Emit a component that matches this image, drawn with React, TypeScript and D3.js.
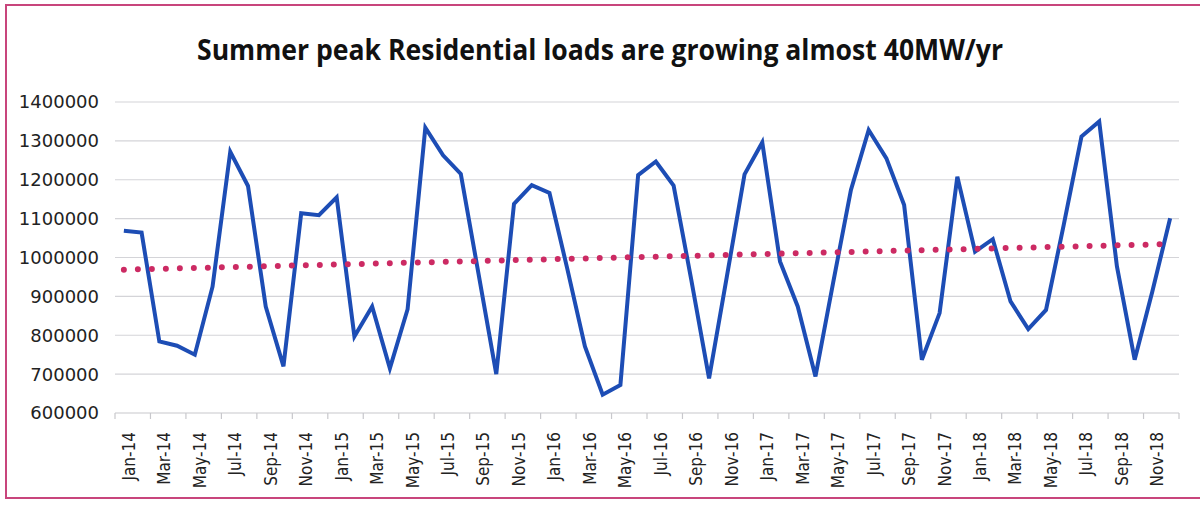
import React, { useEffect, useRef } from "react";
import * as d3 from "d3";

// Monthly residential peak load, Jan-2014 .. Dec-2018
const months: string[] = [
  "Jan-14", "Feb-14", "Mar-14", "Apr-14", "May-14", "Jun-14", "Jul-14", "Aug-14", "Sep-14", "Oct-14", "Nov-14", "Dec-14",
  "Jan-15", "Feb-15", "Mar-15", "Apr-15", "May-15", "Jun-15", "Jul-15", "Aug-15", "Sep-15", "Oct-15", "Nov-15", "Dec-15",
  "Jan-16", "Feb-16", "Mar-16", "Apr-16", "May-16", "Jun-16", "Jul-16", "Aug-16", "Sep-16", "Oct-16", "Nov-16", "Dec-16",
  "Jan-17", "Feb-17", "Mar-17", "Apr-17", "May-17", "Jun-17", "Jul-17", "Aug-17", "Sep-17", "Oct-17", "Nov-17", "Dec-17",
  "Jan-18", "Feb-18", "Mar-18", "Apr-18", "May-18", "Jun-18", "Jul-18", "Aug-18", "Sep-18", "Oct-18", "Nov-18", "Dec-18",
];

const loads: number[] = [
  1069000, 1064000, 784000, 773000, 750000, 925000, 1272000, 1184000, 874000, 720000, 1114000, 1109000,
  1155000, 797000, 874000, 715000, 867000, 1334000, 1263000, 1215000, 958000, 700000, 1138000, 1186000,
  1166000, 972000, 771000, 647000, 672000, 1212000, 1247000, 1185000, 942000, 689000, 950000, 1214000,
  1296000, 990000, 874000, 694000, 936000, 1174000, 1328000, 1255000, 1135000, 737000, 857000, 1208000,
  1015000, 1047000, 887000, 816000, 865000, 1084000, 1311000, 1350000, 977000, 737000, 913000, 1101000,
];

const yTicks: number[] = [600000, 700000, 800000, 900000, 1000000, 1100000, 1200000, 1300000, 1400000];

const title = "Summer peak Residential loads are growing almost 40MW/yr";

const W = 1200;
const H = 505;
const plot = { left: 115, right: 1179, top: 102, bottom: 413 };

export default function App() {
  const ref = useRef<SVGSVGElement | null>(null);

  useEffect(() => {
    const svg = d3.select(ref.current);
    svg.selectAll("*").remove();

    // outer chart border
    svg.append("rect")
      .attr("x", 6).attr("y", 5).attr("width", 1200).attr("height", 493)
      .attr("fill", "#ffffff").attr("stroke", "#c8457c").attr("stroke-width", 2);

    svg.append("text")
      .attr("x", 600).attr("y", 60)
      .attr("text-anchor", "middle")
      .attr("font-family", "'Open Sans', sans-serif")
      .attr("font-weight", "bold")
      .attr("font-size", 28)
      .attr("textLength", 806)
      .attr("lengthAdjust", "spacingAndGlyphs")
      .attr("fill", "#111")
      .text(title);

    const x = d3.scaleBand<string>().domain(months).range([plot.left, plot.right]).paddingInner(0).paddingOuter(0);
    const y = d3.scaleLinear().domain([600000, 1400000]).range([plot.bottom, plot.top]);
    const cx = (m: string) => (x(m) as number) + x.bandwidth() / 2;

    // horizontal gridlines
    svg.append("g").selectAll("line").data(yTicks.filter((t) => t > 600000)).join("line")
      .attr("x1", plot.left).attr("x2", plot.right)
      .attr("y1", (d) => y(d)).attr("y2", (d) => y(d))
      .attr("stroke", "#d4d4d8").attr("stroke-width", 1.2);

    // y-axis labels
    svg.append("g").selectAll("text").data(yTicks).join("text")
      .attr("x", 99).attr("y", (d) => y(d))
      .attr("dy", "0.36em")
      .attr("text-anchor", "end")
      .attr("font-family", "'DejaVu Sans', sans-serif")
      .attr("font-size", 18)
      .attr("fill", "#222")
      .text((d) => String(d));

    // category axis line and tick marks every second month
    svg.append("line")
      .attr("x1", plot.left).attr("x2", plot.right)
      .attr("y1", plot.bottom).attr("y2", plot.bottom)
      .attr("stroke", "#c8c8cc").attr("stroke-width", 1.2);
    const tickIdx = d3.range(0, months.length + 1, 2);
    svg.append("g").selectAll("line").data(tickIdx).join("line")
      .attr("x1", (i) => plot.left + i * x.step()).attr("x2", (i) => plot.left + i * x.step())
      .attr("y1", plot.bottom).attr("y2", plot.bottom + 6)
      .attr("stroke", "#c8c8cc").attr("stroke-width", 1.2);

    // rotated month labels
    const labeled = months.filter((_, i) => i % 2 === 0);
    svg.append("g").selectAll("text").data(labeled).join("text")
      .attr("transform", (m) => `translate(${cx(m) + 5},${plot.bottom + 19}) rotate(-90)`)
      .attr("text-anchor", "end")
      .attr("dy", "0.35em")
      .attr("font-family", "'DejaVu Sans Condensed', 'DejaVu Sans', sans-serif")
      .attr("font-stretch", "condensed")
      .attr("font-size", 17)
      .attr("fill", "#222")
      .text((m) => m);

    // least-squares linear trend
    const n = loads.length;
    const xs = d3.range(n);
    const mx = d3.mean(xs) as number;
    const my = d3.mean(loads) as number;
    const sxy = d3.sum(xs, (i) => (i - mx) * (loads[i] - my));
    const sxx = d3.sum(xs, (i) => (i - mx) * (i - mx));
    const slope = sxy / sxx;
    const icpt = my - slope * mx;
    const trend = xs.map((i) => icpt + slope * i);

    const line = d3.line<number>()
      .x((_, i) => cx(months[i]))
      .y((v) => y(v));

    svg.append("path")
      .datum(loads)
      .attr("d", line)
      .attr("fill", "none")
      .attr("stroke", "#1d4db5")
      .attr("stroke-width", 4)
      .attr("stroke-linejoin", "miter");

    svg.append("path")
      .datum(trend)
      .attr("d", line)
      .attr("fill", "none")
      .attr("stroke", "#cc2a63")
      .attr("stroke-width", 6)
      .attr("stroke-linecap", "round")
      .attr("stroke-dasharray", "0 14");
  }, []);

  return (
    <svg
      ref={ref}
      width={W}
      height={H}
      style={{ position: "absolute", left: 0, top: 0, background: "#fff" }}
    />
  );
}
